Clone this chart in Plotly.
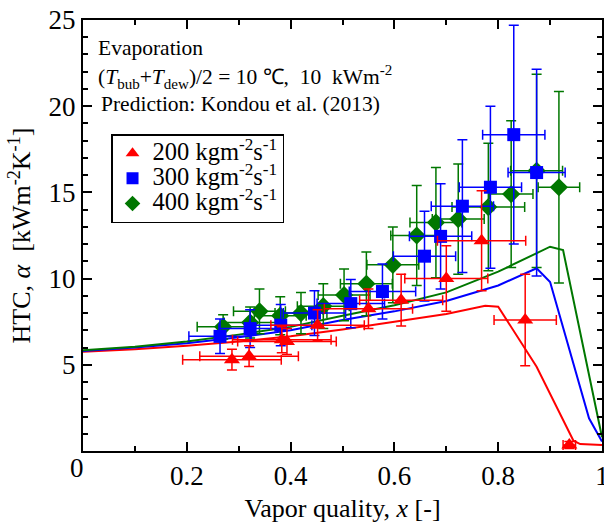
import plotly.graph_objects as go

# ---- data ----
x200 = [0.287, 0.320, 0.383, 0.393, 0.452, 0.550, 0.613, 0.700, 0.768, 0.852, 0.937]
y200 = [5.3, 5.5, 6.45, 6.35, 7.3, 8.25, 8.75, 10.0, 12.2, 7.6, 0.35]
xe200 = [0.095, 0.095, 0.095, 0.095, 0.09, 0.085, 0.08, 0.08, 0.085, 0.06, 0.012]
ye200 = [0.6, 0.6, 0.75, 0.75, 0.9, 1.15, 1.5, 1.9, 2.9, 2.65, 0.2]

x300 = [0.264, 0.322, 0.381, 0.446, 0.516, 0.577, 0.658, 0.689, 0.731, 0.785, 0.830, 0.874]
y300 = [6.65, 7.1, 7.3, 8.0, 8.55, 9.25, 11.3, 12.45, 14.2, 15.3, 18.35, 16.15]
xe300 = [0.06, 0.06, 0.06, 0.06, 0.065, 0.064, 0.06, 0.06, 0.06, 0.06, 0.06, 0.055]
ye300 = [1.0, 1.1, 1.2, 1.3, 1.4, 1.6, 2.6, 3.05, 3.85, 4.7, 6.35, 6.0]

x400 = [0.27, 0.322, 0.34, 0.38, 0.42, 0.463, 0.503, 0.546, 0.597, 0.643, 0.68, 0.723, 0.781, 0.825, 0.874, 0.917]
y400 = [7.2, 7.45, 8.1, 7.85, 8.0, 8.4, 9.05, 9.7, 10.8, 12.5, 13.25, 13.45, 14.15, 14.9, 16.25, 15.3]
xe400 = [0.05, 0.05, 0.05, 0.05, 0.05, 0.05, 0.05, 0.05, 0.05, 0.05, 0.05, 0.05, 0.07, 0.042, 0.05, 0.04]
ye400 = [0.7, 0.9, 1.3, 1.1, 1.2, 1.3, 1.5, 1.85, 2.2, 2.9, 3.2, 3.2, 3.7, 4.25, 5.6, 5.55]

# prediction curves (Kondou et al. 2013)
px200 = [0, 0.1, 0.2, 0.3, 0.4, 0.5, 0.6, 0.7, 0.775, 0.8, 0.874, 0.945, 0.958, 1.0]
py200 = [5.75, 5.9, 6.1, 6.35, 6.65, 7.05, 7.5, 7.95, 8.43, 8.37, 4.89, 0.6, 0.4, 0.35]
px300 = [0, 0.1, 0.2, 0.3, 0.4, 0.5, 0.6, 0.7, 0.8, 0.874, 0.9, 0.975, 1.0]
py300 = [5.8, 6.0, 6.25, 6.6, 7.0, 7.6, 8.1, 8.7, 9.6, 10.6, 9.8, 1.9, 0.55]
px400 = [0, 0.1, 0.2, 0.3, 0.4, 0.5, 0.6, 0.7, 0.8, 0.9, 0.925, 1.0]
py400 = [5.85, 6.05, 6.35, 6.75, 7.2, 7.85, 8.45, 9.2, 10.4, 11.85, 11.65, 0.8]

x_ticks = [0, 0.2, 0.4, 0.6, 0.8, 1.0]
x_ticktext = ["", "0.2", "0.4", "0.6", "0.8", "1"]
y_ticks = [0, 5, 10, 15, 20, 25]
y_ticktext = ["", "5", "10", "15", "20", "25"]

RED, BLUE, GREEN = "#ff0000", "#0000ff", "#007700"
FONT = "Liberation Serif"

fig = go.Figure()

for px, py, c in [(px200, py200, RED), (px300, py300, BLUE), (px400, py400, GREEN)]:
    fig.add_trace(go.Scatter(x=px, y=py, mode="lines", line=dict(color=c, width=2),
                             showlegend=False, hoverinfo="skip"))

def lg(t):
    return '<span style="font-size:24.5px">' + t + '</span>'

series = [
    (x400, y400, xe400, ye400, GREEN, "diamond", 14, lg("400 kgm<sup>-2</sup>s<sup>-1</sup>")),
    (x300, y300, xe300, ye300, BLUE, "square", 13, lg("300 kgm<sup>-2</sup>s<sup>-1</sup>")),
    (x200, y200, xe200, ye200, RED, "triangle-up", 14, lg("200 kgm<sup>-2</sup>s<sup>-1</sup>")),
]
for xs, ys, xe, ye, c, sym, sz, name in series:
    fig.add_trace(go.Scatter(
        x=xs, y=ys, mode="markers", name=name,
        marker=dict(symbol=sym, size=sz, color=c, line=dict(width=0)),
        error_x=dict(type="data", array=xe, color=c, thickness=1.5, width=5),
        error_y=dict(type="data", array=ye, color=c, thickness=1.5, width=5),
    ))

axis_common = dict(showline=True, linecolor="black", linewidth=2, mirror="ticks",
                   ticks="inside", tickcolor="black", tickwidth=1.5, ticklen=9,
                   showgrid=False, zeroline=False, ticklabeloverflow="allow",
                   automargin=False,
                   tickfont=dict(family=FONT, size=27, color="black"))

fig.update_xaxes(range=[0, 1], tickvals=x_ticks, ticktext=x_ticktext,
                 minor=dict(dtick=0.1, ticks="inside", ticklen=5, tickcolor="black", tickwidth=1.5),
                 title=dict(text="Vapor quality, <i>x</i> [-]", font=dict(family=FONT, size=26, color="black"),
                            standoff=8),
                 **axis_common)
fig.update_yaxes(range=[0, 25], tickvals=y_ticks, ticktext=y_ticktext,
                 minor=dict(dtick=1, ticks="inside", ticklen=5, tickcolor="black", tickwidth=1.5),
                 title=dict(text="HTC, <i>α</i>  [kWm<sup>-2</sup>K<sup>-1</sup>]",
                            font=dict(family=FONT, size=26, color="black"), standoff=10),
                 **axis_common)

fig.add_annotation(text="0", xref="paper", yref="paper", x=-0.0116, y=-0.039,
                   xanchor="center", yanchor="middle", showarrow=False,
                   font=dict(family=FONT, size=27, color="black"))

ann_font = dict(family=FONT, size=21.5, color="black")
fig.add_annotation(text="Evaporation", xref="paper", yref="paper", x=0.026, y=0.935,
                   xanchor="left", yanchor="middle", showarrow=False, font=ann_font)
fig.add_annotation(text="(<i>T</i><sub>bub</sub>+<i>T</i><sub>dew</sub>)/2 = 10 ℃,  10  kWm<sup>-2</sup>",
                   xref="paper", yref="paper", x=0.026, y=0.868,
                   xanchor="left", yanchor="middle", showarrow=False, font=ann_font)
fig.add_annotation(text="Prediction: Kondou et al. (2013)", xref="paper", yref="paper", x=0.031, y=0.805,
                   xanchor="left", yanchor="middle", showarrow=False, font=ann_font)

fig.update_layout(
    width=604, height=525,
    margin=dict(l=83, r=2, t=20, b=74, autoexpand=False),
    paper_bgcolor="white", plot_bgcolor="white",
    font=dict(family=FONT, color="black"),
    legend=dict(x=0.054, y=0.735, xanchor="left", yanchor="top",
                bordercolor="black", borderwidth=1.5, bgcolor="white",
                font=dict(family=FONT, size=17, color="black"),
                traceorder="reversed", itemsizing="constant", tracegroupgap=0),
    showlegend=True,
)

fig.write_html("out.html", post_script="document.body.style.margin='0';",
               config={"displayModeBar": False})
